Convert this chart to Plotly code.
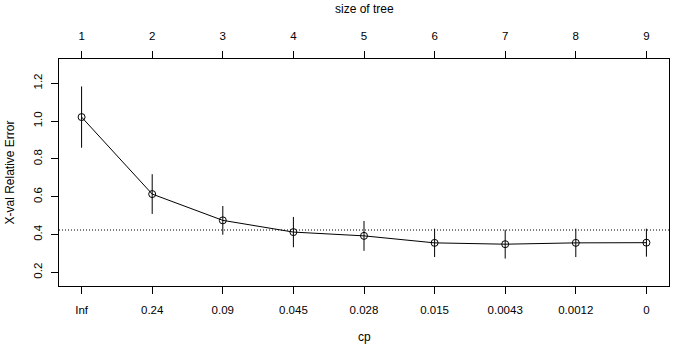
import plotly.graph_objects as go

# Data (rpart plotcp)
tree_size = [1, 2, 3, 4, 5, 6, 7, 8, 9]
cp_labels = ["Inf", "0.24", "0.09", "0.045", "0.028", "0.015", "0.0043", "0.0012", "0"]
xerror = [1.021, 0.614, 0.475, 0.413, 0.393, 0.356, 0.349, 0.356, 0.357]
xstd = [0.162, 0.105, 0.076, 0.080, 0.079, 0.075, 0.076, 0.075, 0.074]
threshold = 0.424
size_labels = [str(s) for s in tree_size]

FONT = "Liberation Sans, Arial, sans-serif"
FS = 11.5
FT = 12
INK = "#000000"

fig = go.Figure()

fig.add_trace(go.Scatter(
    x=tree_size, y=xerror,
    mode="lines+markers",
    line=dict(color=INK, width=1),
    marker=dict(symbol="circle-open", size=7, color=INK, line=dict(width=1, color=INK)),
    error_y=dict(type="data", array=xstd, visible=True, color=INK, thickness=1, width=0),
    showlegend=False, hoverinfo="x+y",
))
# invisible trace to activate top axis
fig.add_trace(go.Scatter(x=tree_size, y=xerror, xaxis="x2", mode="markers",
                         marker=dict(opacity=0), showlegend=False, hoverinfo="skip"))

fig.add_shape(type="line", xref="paper", x0=0, x1=1, yref="y", y0=threshold, y1=threshold,
              line=dict(color=INK, width=1, dash="1px,2px"))

xr = [0.68, 9.32]
fig.update_layout(
    width=700, height=360,
    margin=dict(l=59, r=31, t=59, b=74),
    paper_bgcolor="white", plot_bgcolor="white",
    font=dict(family=FONT, size=FS, color=INK),
    xaxis=dict(range=xr, tickmode="array", tickvals=tree_size, ticktext=cp_labels,
               ticks="outside", ticklen=7, tickwidth=1, tickcolor=INK,
               showline=True, linecolor=INK, linewidth=1, mirror=True,
               showgrid=False, zeroline=False, ticklabelstandoff=6, automargin=False),
    xaxis2=dict(range=xr, overlaying="x", side="top", anchor="y",
                tickmode="array", tickvals=tree_size, ticktext=size_labels,
                ticks="outside", ticklen=7, tickwidth=1, tickcolor=INK,
                showline=True, linecolor=INK, linewidth=1,
                showgrid=False, zeroline=False, ticklabelstandoff=6, automargin=False),
    yaxis=dict(range=[0.128, 1.328], tickmode="array",
               tickvals=[0.2, 0.4, 0.6, 0.8, 1.0, 1.2],
               ticktext=["0.2", "0.4", "0.6", "0.8", "1.0", "1.2"],
               tickangle=-90, ticks="outside", ticklen=7, tickwidth=1, tickcolor=INK,
               showline=True, linecolor=INK, linewidth=1, mirror=True,
               showgrid=False, zeroline=False, ticklabelstandoff=4, automargin=False),
)

fig.add_annotation(text="size of tree", xref="paper", yref="paper", x=0.5, y=1,
                   yshift=50, showarrow=False, font=dict(size=FT, color=INK),
                   xanchor="center", yanchor="middle")
fig.add_annotation(text="cp", xref="paper", yref="paper", x=0.5, y=0,
                   yshift=-51, showarrow=False, font=dict(size=FT, color=INK),
                   xanchor="center", yanchor="middle")
fig.add_annotation(text="X-val Relative Error", xref="paper", yref="paper", x=0, y=0.5,
                   xshift=-50, showarrow=False, textangle=-90, font=dict(size=FT, color=INK),
                   xanchor="center", yanchor="middle")

fig.write_html("out.html", config={"displayModeBar": False},
               post_script="document.body.style.margin='0';")
